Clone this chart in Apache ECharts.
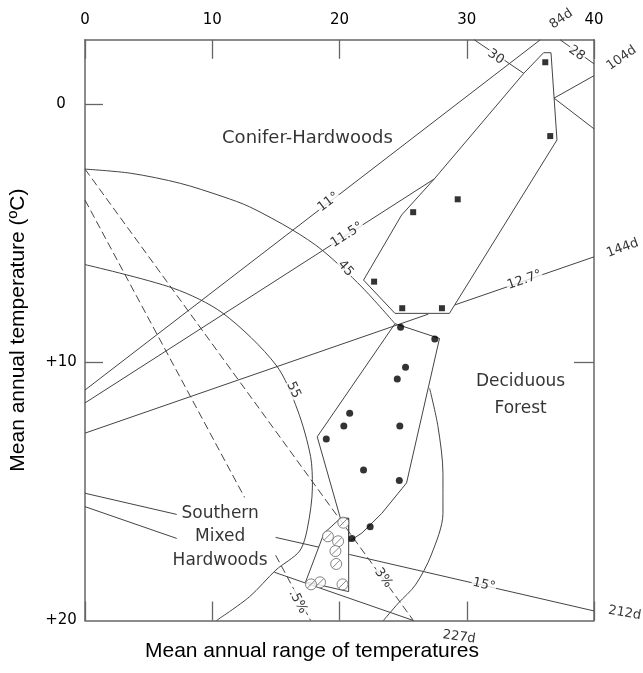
<!DOCTYPE html>
<html><head><meta charset="utf-8">
<script src="https://cdn.jsdelivr.net/npm/echarts@6/dist/echarts.min.js"></script>
<style>html,body{margin:0;padding:0;background:#fff}#c{width:643px;height:673px}</style>
</head><body><div id="c"></div><script>
// ---- axis ticks ----
const rangeTicks = [0, 10, 20, 30, 40];
const tempTicks = [0, 10, 20];
const tempTickText = ['0', '+10', '+20'];
const leftTickValues = [0, 10];
const rightTickValues = [10];

// ---- isolines [range, temperature] ----
const iso11 = [[0, 11.07], [35.78, -2.5]];
const iso115 = [[0, 11.57], [27.45, 2.89]];
const iso127a = [[0, 12.74], [26.98, 8.13]];
const iso127b = [[29.08, 7.77], [40, 5.91]];
const iso15a = [[0, 15.07], [7.21, 15.89]];
const iso15b = [[14.98, 16.78], [18.39, 17.16]];
const iso15c = [[20.77, 17.44], [40, 19.63]];
const line227a = [[0, 15.59], [7.21, 16.82]];
const line227b = [[14.88, 18.13], [25.81, 20]];
const arc45 = [[0, 2.51], [3.58, 2.67], [7.48, 3.06], [10.85, 3.58], [12.93, 3.97], [16.31, 4.87], [18.64, 5.65], [21.76, 7.08], [24.36, 8.5]];
const arc55 = [[0, 6.21], [6.96, 7.13], [10.85, 8.10], [15.01, 10.10], [16.70, 11.84], [17.73, 13.65], [17.87, 14.83], [17.48, 16.42], [16.86, 17.31], [15.01, 18.04], [12.93, 19.08], [10.33, 20]];
const boundaryCurve = [[27.08, 11.0], [27.74, 12.49], [28.13, 14.30], [28.13, 15.85], [27.21, 17.46], [25.97, 18.62], [24.62, 19.33], [23.45, 20]];
const iso30 = [[30.59, -2.5], [34.48, -1.20]];
const iso28 = [[37.34, -2.5], [40, -1.57]];
const rightUpper = [[36.86, -0.24], [40, -1.11]];
const rightLower = [[36.86, -0.24], [40, 0.95]];
const dashed3 = [[0, 2.51], [25.81, 20]];
const dashed05a = [[0, 3.71], [12.54, 15.23]];
const dashed05b = [[14.98, 17.47], [17.73, 20]];

// ---- zones ----
const coniferZone = [[21.89, 6.81], [24.88, 4.29], [27.45, 2.89], [34.48, -1.20], [36.04, -2.00], [36.62, -2.00], [37.09, 1.38], [28.64, 8.10], [24.36, 8.10], [21.89, 6.81]];
const deciduousZone = [[24.36, 8.5], [27.86, 9.07], [25.27, 14.67], [23.32, 15.85], [21.76, 16.61], [20.72, 16.95], [20.72, 16.04], [20.07, 16.04], [18.25, 12.88], [24.36, 8.5]];
const southernZone = [[20.07, 16.04], [20.72, 16.04], [20.72, 18.88], [17.34, 18.50], [18.78, 16.62], [20.07, 16.04]];

// ---- sites ----
const coniferSites = [[36.17, -1.63], [36.56, 1.23], [29.29, 3.68], [25.79, 4.18], [22.72, 6.87], [24.93, 7.90], [28.05, 7.90]];
const deciduousSites = [[24.80, 8.64], [27.49, 9.09], [25.19, 10.19], [24.54, 10.64], [20.80, 11.97], [20.34, 12.46], [24.74, 12.46], [18.96, 12.97], [21.89, 14.17], [24.70, 14.58], [22.41, 16.37], [20.98, 16.82]];
const southernSites = [[20.30, 16.21], [19.09, 16.74], [19.89, 16.93], [19.68, 17.31], [19.74, 17.81], [18.47, 18.52], [17.76, 18.60], [20.24, 18.60]];

// ---- annotations ----
const lineLabels = [
  ['11°', 19.13, 3.79], ['11.5°', 20.59, 5.06], ['45', 20.48, 6.36], ['55', 16.39, 11.07],
  ['12.7°', 34.54, 6.81], ['15°', 31.35, 18.62], ['3%', 23.45, 18.35], ['.5%', 16.73, 19.27],
  ['30', 32.28, -1.84], ['28', 38.64, -1.98], ['84d', 37.43, -3.30], ['104d', 42.17, -1.79],
  ['144d', 42.25, 5.57], ['212d', 42.41, 19.71], ['227d', 29.40, 20.64]
];
const regionLabels = [['Conifer-Hardwoods', 17.48, 1.31], ['Deciduous\nForest', 34.23, 11.27], ['Southern\nMixed\nHardwoods', 10.62, 16.75]];

// ---- styles ----
const labelRotate = {'11°': 37, '11.5°': 32.5, '45': -48, '55': -65, '12.7°': 19, '15°': -13, '3%': -54, '.5%': -62, '30': -34, '28': -35, '84d': 35, '104d': 35, '144d': 20, '212d': -10, '227d': -8};
const regionLineHeight = {'Conifer-Hardwoods': 20, 'Deciduous\nForest': 27, 'Southern\nMixed\nHardwoods': 23.5};
const regionFontSize = {'Conifer-Hardwoods': 18, 'Deciduous\nForest': 17, 'Southern\nMixed\nHardwoods': 17};
const LINE = '#444';
const FRAME = '#666';
const TEXT = '#000';

function seg(data, o) {
  o = o || {};
  return {type: 'line', data: data, symbol: 'none', silent: true, clip: false, animation: false, z: 2,
    smooth: o.smooth || false,
    lineStyle: {color: LINE, width: 1, type: o.dash ? [8, 4] : 'solid'}};
}

const axisLine = {show: true, onZero: false, lineStyle: {color: FRAME, width: 1.5}};
const tickStyle = {color: FRAME, width: 1.3};

const option = {
  animation: false,
  backgroundColor: '#fff',
  title: {text: 'Mean annual range of temperatures', left: 145, top: 641, padding: 0,
    textStyle: {fontSize: 21, fontWeight: 'normal', fontFamily: 'Liberation Sans', color: '#000'}},
  grid: {left: 80.7, right: 49, top: 39.8, bottom: 52.5},
  xAxis: [
    {type: 'value', position: 'bottom', min: rangeTicks[0], max: rangeTicks[rangeTicks.length - 1], interval: 10,
      axisLine: axisLine, axisTick: {show: true, inside: true, length: 19, lineStyle: tickStyle},
      axisLabel: {show: false}, splitLine: {show: false}},
    {type: 'value', position: 'top', min: rangeTicks[0], max: rangeTicks[rangeTicks.length - 1], interval: 10,
      axisLine: axisLine, axisTick: {show: true, inside: true, length: 19, lineStyle: tickStyle},
      axisLabel: {show: true, margin: 12, fontSize: 15, fontFamily: 'DejaVu Sans', color: TEXT,
        showMinLabel: true, showMaxLabel: true},
      splitLine: {show: false}}
  ],
  yAxis: [
    {type: 'value', inverse: true, min: -2.5, max: 20, position: 'left',
      axisLine: axisLine,
      axisTick: {show: true, inside: true, length: 18, lineStyle: tickStyle, customValues: leftTickValues},
      axisLabel: {show: true, customValues: tempTicks, align: 'center', margin: 24, fontSize: 15,
        fontFamily: 'DejaVu Sans', color: TEXT,
        formatter: function (v) { const i = tempTicks.indexOf(Math.round(v)); return i >= 0 ? tempTickText[i] : ''; }},
      splitLine: {show: false},
      name: 'Mean annual temperature (ºC)', nameLocation: 'middle', nameGap: 56, nameRotate: 90,
      nameTextStyle: {fontSize: 21, fontFamily: 'Liberation Sans', color: '#000'}},
    {type: 'value', inverse: true, min: -2.5, max: 20, position: 'right',
      axisLine: axisLine,
      axisTick: {show: true, inside: true, length: 20, lineStyle: tickStyle, customValues: rightTickValues},
      axisLabel: {show: false}, splitLine: {show: false}}
  ],
  series: [
    seg(iso11), seg(iso115), seg(iso127a), seg(iso127b), seg(iso15a), seg(iso15b), seg(iso15c),
    seg(line227a), seg(line227b),
    seg(arc45, {smooth: 0.3}), seg(arc55, {smooth: 0.3}), seg(boundaryCurve, {smooth: 0.3}),
    seg(iso30), seg(iso28), seg(rightUpper), seg(rightLower),
    seg(dashed3, {dash: true}), seg(dashed05a, {dash: true}), seg(dashed05b, {dash: true}),
    seg(coniferZone), seg(deciduousZone), seg(southernZone),
    {type: 'scatter', data: coniferSites, symbol: 'rect', symbolSize: 6, silent: true, z: 4,
      itemStyle: {color: '#000'}},
    {type: 'scatter', data: deciduousSites, symbol: 'circle', symbolSize: 7, silent: true, z: 4,
      itemStyle: {color: '#000'}},
    {type: 'scatter', data: southernSites, symbol: 'path://M10,0A10,10,0,1,1,10,20A10,10,0,1,1,10,0ZM3.5,16.5L16.5,3.5',
      symbolSize: 11, silent: true, z: 4,
      itemStyle: {color: '#fff', borderColor: '#666', borderWidth: 1}},
    {type: 'scatter', symbolSize: 1, clip: false, silent: true, z: 6,
      itemStyle: {color: 'rgba(0,0,0,0)'},
      data: lineLabels.map(function (d) { return {value: [d[1], d[2]], label: {formatter: d[0], rotate: labelRotate[d[0]]}}; }),
      label: {show: true, position: 'inside', fontSize: 13, fontFamily: 'DejaVu Sans', color: TEXT,
        backgroundColor: '#fff', padding: [0, 1]}},
    {type: 'scatter', symbolSize: 1, clip: false, silent: true, z: 6,
      itemStyle: {color: 'rgba(0,0,0,0)'},
      data: regionLabels.map(function (d) { return {value: [d[1], d[2]], label: {formatter: d[0], lineHeight: regionLineHeight[d[0]], fontSize: regionFontSize[d[0]]}}; }),
      label: {show: true, position: 'inside', fontFamily: 'DejaVu Sans', color: TEXT, align: 'center'}}
  ]
};
const chart = echarts.init(document.getElementById('c'), null, {renderer: 'canvas'});
chart.setOption(option);
</script></body></html>
